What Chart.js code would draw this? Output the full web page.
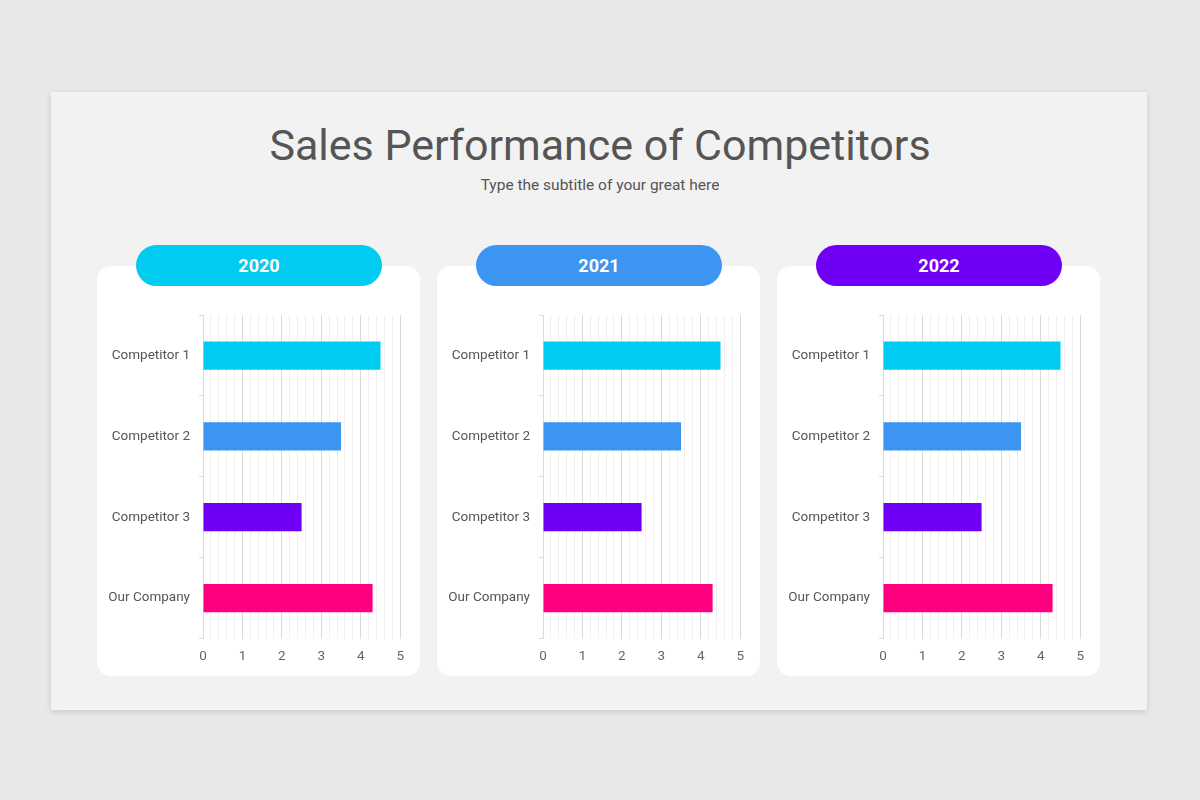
<!DOCTYPE html>
<html>
<head>
<meta charset="utf-8">
<title>Sales Performance of Competitors</title>
<script src="https://cdn.jsdelivr.net/npm/chart.js@4.4.0/dist/chart.umd.min.js"></script>
<style>
  html, body { margin: 0; padding: 0; }
  body {
    width: 1200px; height: 800px; position: relative; overflow: hidden;
    background: #e9e7e8; font-family: Roboto, "Noto Sans", sans-serif;
  }
  .slide {
    position: absolute; left: 51px; top: 92px; width: 1096px; height: 618px;
    background: #f2f2f2; box-shadow: 0 2px 6px rgba(0,0,0,0.12);
  }
  h1 {
    position: absolute; left: 0; top: 119px; width: 1200px; margin: 0;
    text-align: center; font-weight: 400; font-size: 43px; line-height: 52px; color: #555;
  }
  .sub {
    position: absolute; left: 0; top: 175px; width: 1200px;
    text-align: center; font-size: 15.5px; line-height: 20px; color: #555;
  }
  .card {
    position: absolute; top: 266px; width: 323px; height: 410px;
    background: #fff; border-radius: 14px;
  }
  .pill {
    position: absolute; top: 245px; width: 246px; height: 41px; border-radius: 21px;
    color: #fff; font-weight: 700; font-size: 18px; line-height: 41px; text-align: center;
  }
  canvas { position: absolute; top: 298px; }
</style>
</head>
<body>
<div class="slide"></div>
<h1>Sales Performance of Competitors</h1>
<div class="sub">Type the subtitle of your great here</div>
<div id="panels"></div>
<script>
(() => {
  'use strict'

  // data
  const years = ['2020', '2021', '2022']
  const categories = ['Competitor 1', 'Competitor 2', 'Competitor 3', 'Our Company']
  const values2020 = [4.5, 3.5, 2.5, 4.3]
  const values2021 = [4.5, 3.5, 2.5, 4.3]
  const values2022 = [4.5, 3.5, 2.5, 4.3]
  const xTicks = [0, 1, 2, 3, 4, 5]

  const seriesByYear = [values2020, values2021, values2022]
  const barColors = ['#00cbf0', '#3d95f2', '#7000f5', '#ff0080']
  const pillColors = ['#00cbf0', '#3d95f2', '#7000f5']
  const cardLefts = [97, 437, 777]

  const panels = document.getElementById('panels')

  years.forEach((year, i) => {
    const left = cardLefts[i]

    const card = document.createElement('div')
    card.className = 'card'
    card.style.left = left + 'px'
    panels.appendChild(card)

    const pill = document.createElement('div')
    pill.className = 'pill'
    pill.style.left = (left + 39) + 'px'
    pill.style.background = pillColors[i]
    pill.textContent = year
    panels.appendChild(pill)

    const canvas = document.createElement('canvas')
    canvas.width = 314
    canvas.height = 372
    canvas.style.left = (left + 3) + 'px'
    panels.appendChild(canvas)

    const isMajor = v => xTicks.some(t => Math.abs(t - v) < 1e-6)

    new Chart(canvas, {
      type: 'bar',
      data: {
        labels: categories,
        datasets: [{
          data: seriesByYear[i],
          backgroundColor: barColors,
          borderWidth: 0,
          categoryPercentage: 0.7,
          barPercentage: 0.5
        }]
      },
      options: {
        indexAxis: 'y',
        responsive: false,
        animation: false,
        layout: { padding: { top: 3, right: 10, left: 0, bottom: 0 } },
        plugins: {
          legend: { display: false },
          tooltip: { enabled: false }
        },
        scales: {
          x: {
            min: 0,
            max: 5,
            afterFit: s => { s.height = 31.5 },
            border: { display: false },
            grid: {
              drawTicks: false,
              color: ctx => isMajor(ctx.tick.value) ? '#dadada' : '#efefef',
              lineWidth: 1
            },
            ticks: {
              stepSize: 0.2,
              autoSkip: false,
              maxRotation: 0,
              padding: 10,
              color: '#666',
              font: { family: 'Roboto', size: 13.5 },
              callback: v => isMajor(v) ? String(Math.round(v)) : ''
            }
          },
          y: {
            afterFit: s => { s.width = 103 },
            border: { display: true, color: '#dcdcdc' },
            grid: {
              drawOnChartArea: false,
              drawTicks: true,
              tickLength: 4,
              color: '#dcdcdc'
            },
            ticks: {
              padding: 9,
              color: '#555',
              font: { family: 'Roboto', size: 13.5 }
            }
          }
        }
      }
    })
  })
})()
</script>
</body>
</html>
